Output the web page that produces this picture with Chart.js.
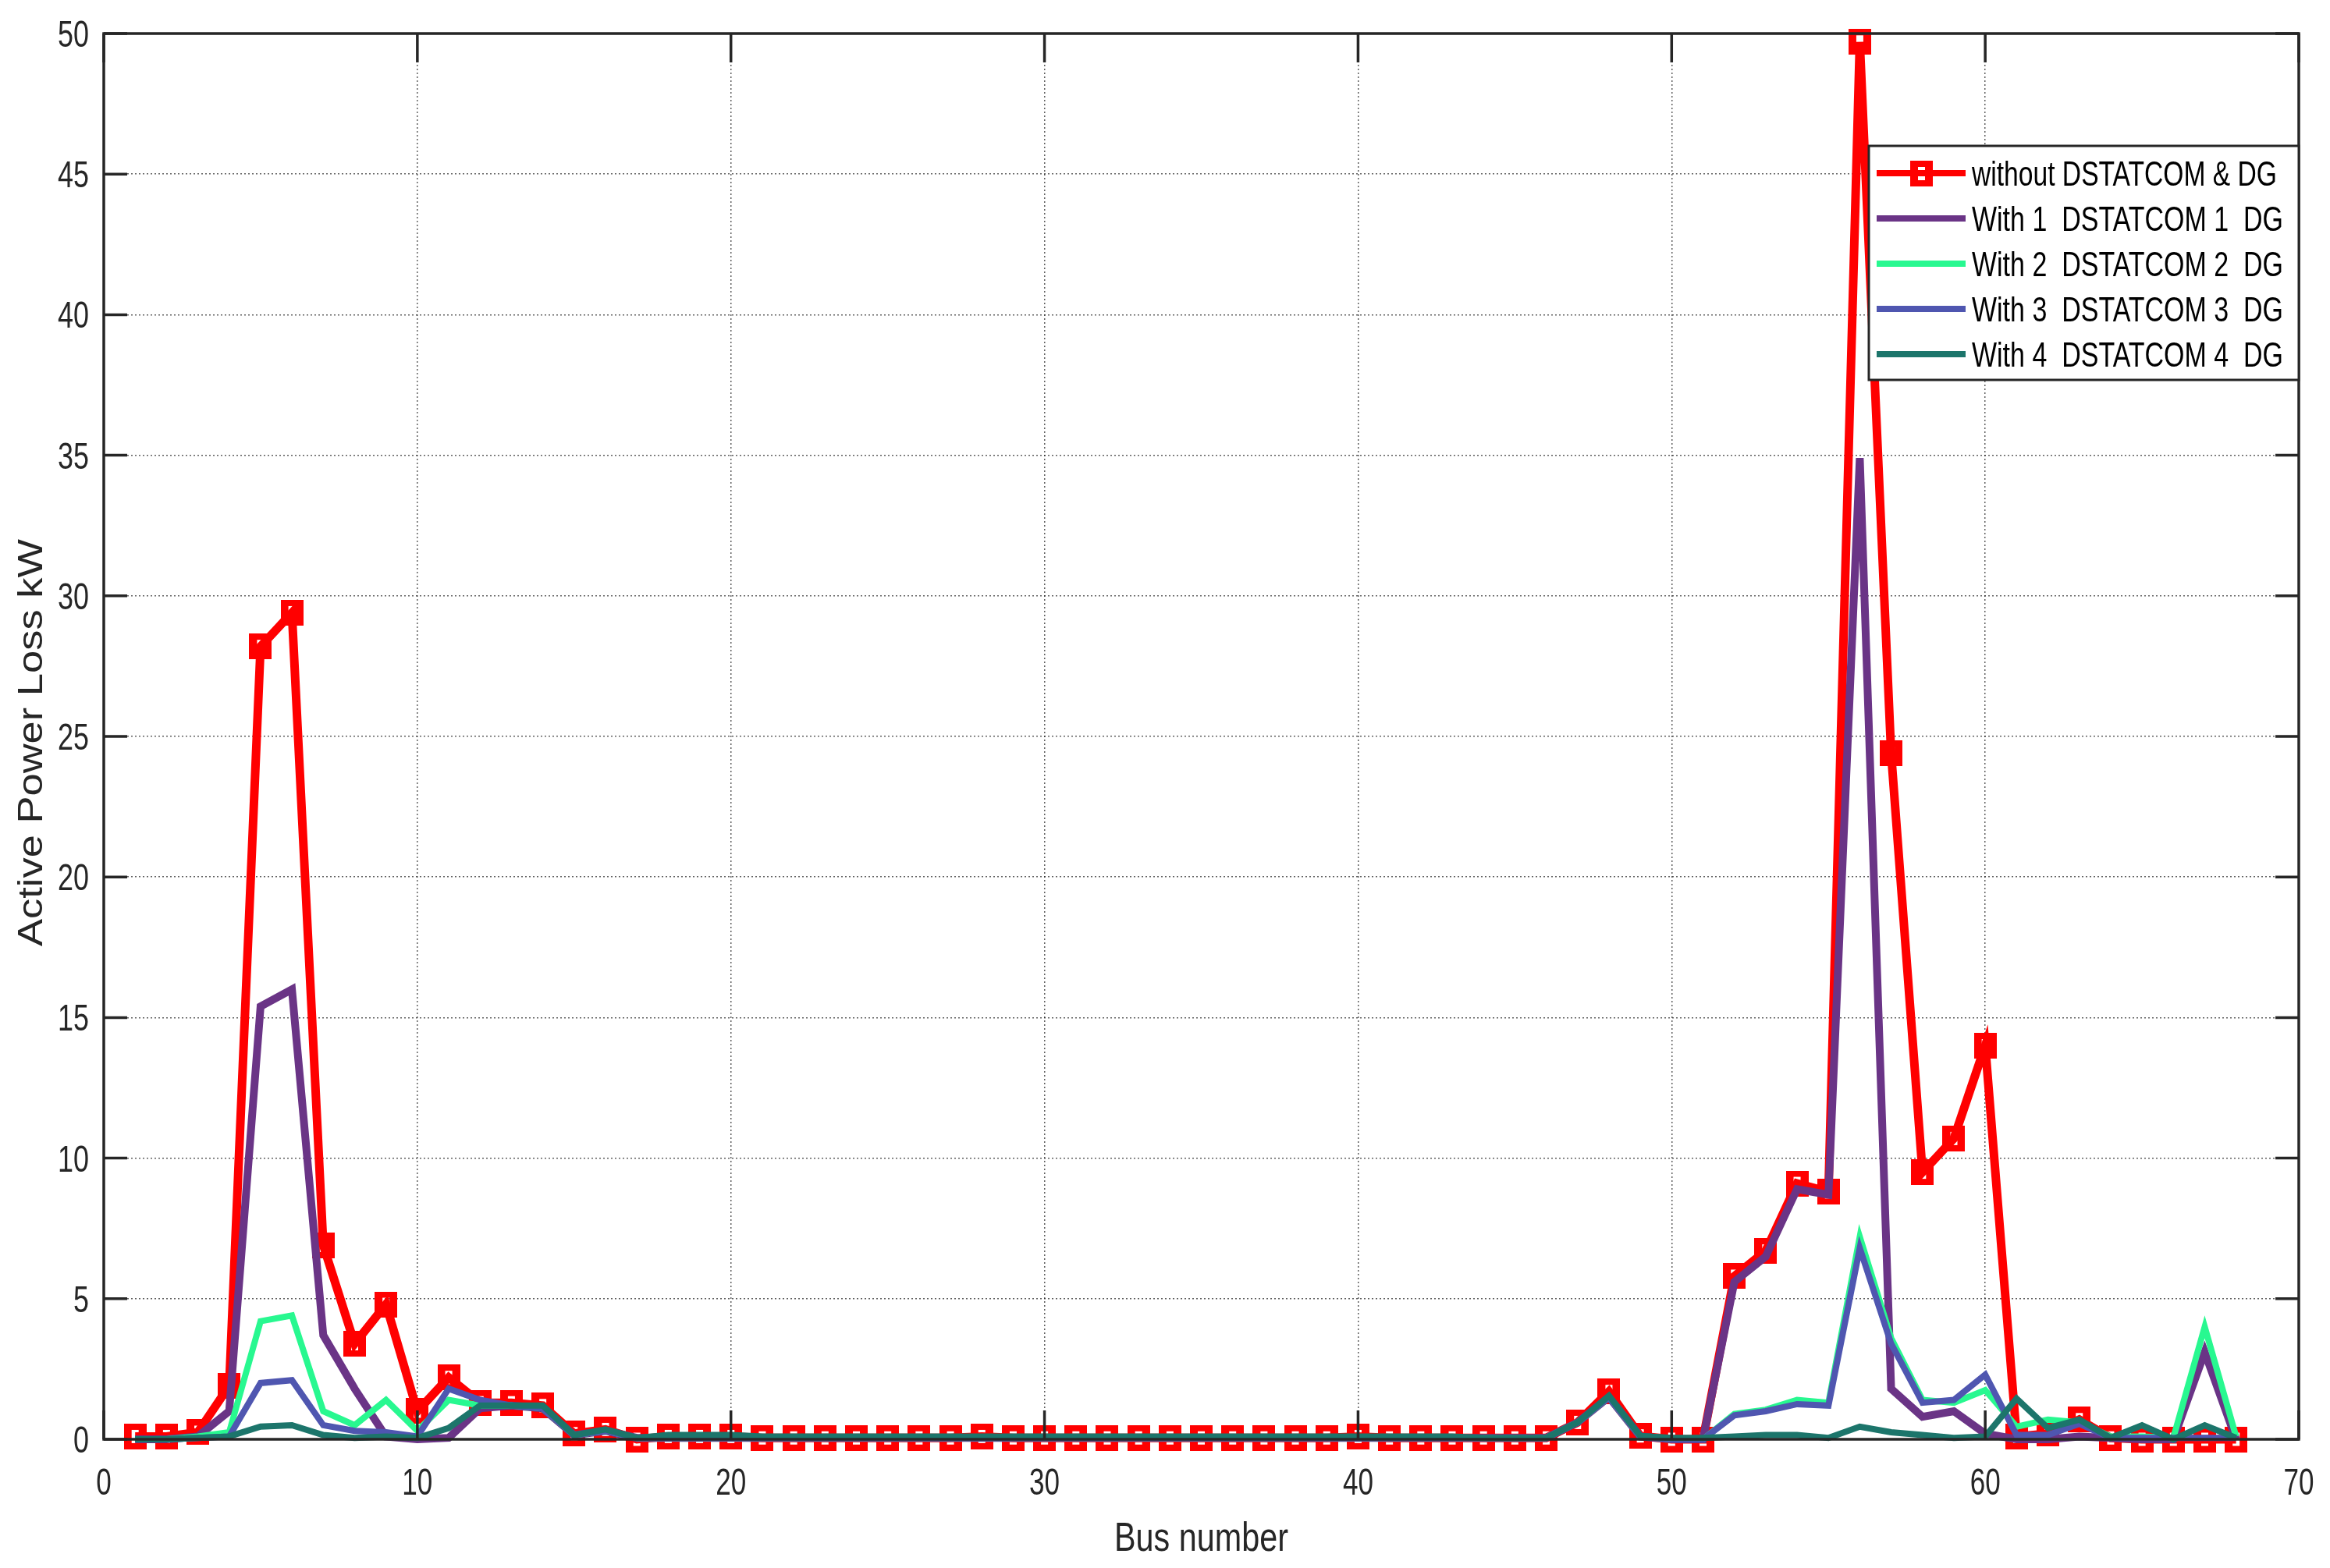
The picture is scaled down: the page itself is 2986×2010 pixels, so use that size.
<!DOCTYPE html>
<html>
<head>
<meta charset="utf-8">
<script src="https://cdn.jsdelivr.net/npm/chart.js@4"></script>
<style>
  html, body { margin: 0; padding: 0; background: #fff; }
  #wrap { width: 2986px; height: 2010px; }
</style>
</head>
<body>
<div id="wrap"><canvas id="c" width="2986" height="2010"></canvas></div>
<script>
// bus numbers 1..68
var buses = [1,2,3,4,5,6,7,8,9,10,11,12,13,14,15,16,17,18,19,20,
  21,22,23,24,25,26,27,28,29,30,31,32,33,34,35,36,37,38,39,40,
  41,42,43,44,45,46,47,48,49,50,51,52,53,54,55,56,57,58,59,60,
  61,62,63,64,65,66,67,68]

var lossWithout = [0.1,0.1,0.25,1.9,28.2,29.4,6.9,3.4,4.8,1.0,
  2.2,1.3,1.3,1.2,0.2,0.35,0.0,0.1,0.1,0.1,
  0.05,0.05,0.05,0.05,0.05,0.05,0.05,0.1,0.05,0.05,
  0.05,0.05,0.05,0.05,0.05,0.05,0.05,0.05,0.05,0.1,
  0.05,0.05,0.05,0.05,0.05,0.05,0.6,1.7,0.12,0.0,
  0.0,5.8,6.7,9.1,8.8,49.7,24.4,9.5,10.7,14.0,
  0.1,0.2,0.7,0.05,0.0,0.0,0.0,0.0]

var lossWith1 = [0,0,0.1,1.0,15.4,16.0,3.7,1.8,0.1,0.0,
  0.05,1.1,1.2,1.1,0.15,0.3,0.05,0.05,0.05,0.05,
  0.05,0.05,0.05,0.05,0.05,0.05,0.05,0.05,0.05,0.05,
  0.05,0.05,0.05,0.05,0.05,0.05,0.05,0.05,0.05,0.05,
  0.05,0.05,0.05,0.05,0.05,0.05,0.6,1.5,0.1,0.0,
  0.0,5.6,6.5,8.9,8.7,34.9,1.8,0.8,1.0,0.2,
  0.0,0.0,0.1,0.05,0.0,0.0,3.1,0.0]

var lossWith2 = [0,0,0.1,0.25,4.2,4.4,1.0,0.5,1.4,0.3,
  1.4,1.2,1.2,1.1,0.15,0.3,0.05,0.05,0.05,0.05,
  0.05,0.05,0.05,0.05,0.05,0.05,0.05,0.05,0.05,0.05,
  0.05,0.05,0.05,0.05,0.05,0.05,0.05,0.05,0.05,0.05,
  0.05,0.05,0.05,0.05,0.05,0.05,0.6,1.5,0.1,0.0,
  0.0,0.9,1.05,1.4,1.3,7.2,3.6,1.4,1.3,1.75,
  0.45,0.7,0.6,0.1,0.1,0.05,4.0,0.1]

var lossWith3 = [0,0,0.05,0.1,2.0,2.1,0.5,0.3,0.25,0.1,
  1.8,1.4,1.2,1.1,0.15,0.3,0.05,0.05,0.05,0.05,
  0.05,0.05,0.05,0.05,0.05,0.05,0.05,0.05,0.05,0.05,
  0.05,0.05,0.05,0.05,0.05,0.05,0.05,0.05,0.05,0.05,
  0.05,0.05,0.05,0.05,0.05,0.05,0.6,1.5,0.1,0.0,
  0.0,0.85,1.0,1.25,1.2,6.8,3.4,1.3,1.4,2.3,
  0.15,0.15,0.55,0.05,0.05,0.05,0.05,0.05]

var lossWith4 = [0,0,0.05,0.1,0.45,0.5,0.15,0.05,0.1,0.05,
  0.4,1.2,1.2,1.2,0.15,0.35,0.05,0.15,0.15,0.15,
  0.1,0.1,0.1,0.1,0.1,0.1,0.1,0.1,0.1,0.1,
  0.1,0.1,0.1,0.1,0.1,0.1,0.1,0.1,0.1,0.1,
  0.1,0.1,0.1,0.05,0.05,0.05,0.6,1.55,0.12,0.05,
  0.05,0.1,0.15,0.15,0.05,0.45,0.25,0.15,0.05,0.1,
  1.45,0.4,0.7,0.05,0.5,0.0,0.5,0.05]

var xTicks = [0, 10, 20, 30, 40, 50, 60, 70]
var yTicks = [0, 5, 10, 15, 20, 25, 30, 35, 40, 45, 50]

var seriesNames = ['without DSTATCOM & DG', 'With 1  DSTATCOM 1  DG', 'With 2  DSTATCOM 2  DG',
  'With 3  DSTATCOM 3  DG', 'With 4  DSTATCOM 4  DG']
var seriesColors = ['#ff0000', '#6a3486', '#28f890', '#4f56b0', '#1c756b']

var sans = "'Liberation Sans', Arial, sans-serif"

// open red square marker (slightly taller than wide, like the figure)
function squareMarker() {
  let c = document.createElement('canvas')
  c.width = 29
  c.height = 33
  let g = c.getContext('2d')
  g.fillStyle = '#ff0000'
  g.fillRect(0, 0, 29, 33)
  g.clearRect(10, 8, 9, 17)
  return c
}
var marker = squareMarker()

function toPoints(arr) {
  return arr.map(function (v, i) { return {x: buses[i], y: v} })
}

function lineSet(i, data, width, order) {
  return {
    label: seriesNames[i],
    data: toPoints(data),
    borderColor: seriesColors[i],
    borderWidth: width,
    pointRadius: 0,
    tension: 0,
    clip: false,
    order: order
  }
}

var redSet = lineSet(0, lossWithout, 11, 4)
redSet.pointStyle = marker
redSet.pointRadius = 14

// draw text squeezed or stretched along its length so it fits a target width
function fitText(ctx, text, x, y, targetWidth, align) {
  let w = ctx.measureText(text).width
  let k = targetWidth / w
  ctx.save()
  ctx.translate(x, y)
  ctx.scale(k, 1)
  ctx.textAlign = align
  ctx.fillText(text, 0, 0)
  ctx.restore()
}

var axesDecor = {
  id: 'axesDecor',
  afterDraw(chart) {
    let ctx = chart.ctx
    let a = chart.chartArea
    let xs = chart.scales.x
    let ys = chart.scales.y
    ctx.save()
    ctx.strokeStyle = '#262626'
    ctx.lineWidth = 3.5
    ctx.strokeRect(a.left, a.top, a.right - a.left, a.bottom - a.top)
    ctx.beginPath()
    xTicks.forEach(function (v) {
      let px = xs.getPixelForValue(v)
      ctx.moveTo(px, a.bottom); ctx.lineTo(px, a.bottom - 37)
      ctx.moveTo(px, a.top); ctx.lineTo(px, a.top + 37)
    })
    yTicks.forEach(function (v) {
      let py = ys.getPixelForValue(v)
      ctx.moveTo(a.left, py); ctx.lineTo(a.left + 30, py)
      ctx.moveTo(a.right, py); ctx.lineTo(a.right - 30, py)
    })
    ctx.stroke()

    // tick labels
    ctx.fillStyle = '#262626'
    ctx.font = '48px ' + sans
    ctx.textBaseline = 'alphabetic'
    yTicks.forEach(function (v) {
      let s = String(v)
      let py = ys.getPixelForValue(v)
      fitText(ctx, s, a.left - 19, py + 17, s.length * 20, 'right')
    })
    xTicks.forEach(function (v) {
      let s = String(v)
      let px = xs.getPixelForValue(v)
      fitText(ctx, s, px, a.bottom + 71, s.length * 19.5, 'center')
    })

    // axis titles
    ctx.font = '52px ' + sans
    fitText(ctx, 'Bus number', (a.left + a.right) / 2, 1988, 223, 'center')
    ctx.save()
    ctx.translate(54, 952)
    ctx.rotate(-Math.PI / 2)
    ctx.font = '44px ' + sans
    fitText(ctx, 'Active Power Loss kW', 0, 0, 522, 'center')
    ctx.restore()

    // legend box
    let lx = 2395, ly = 187, lw = a.right - 2395, lh = 300
    ctx.fillStyle = '#ffffff'
    ctx.fillRect(lx, ly, lw, lh)
    ctx.lineWidth = 3
    ctx.strokeStyle = '#262626'
    ctx.strokeRect(lx, ly, lw, lh)
    ctx.font = '45px ' + sans
    for (let i = 0; i < seriesNames.length; i++) {
      let cy = 222 + i * 58
      ctx.strokeStyle = seriesColors[i]
      ctx.lineWidth = 8
      ctx.beginPath()
      ctx.moveTo(2405, cy); ctx.lineTo(2519, cy)
      ctx.stroke()
      if (i === 0) ctx.drawImage(marker, 2448, cy - 16)
      ctx.fillStyle = '#000000'
      let target = i === 0 ? 391 : 399
      fitText(ctx, seriesNames[i], 2527, cy + 16, target, 'left')
    }
    ctx.restore()
  }
}

function gridColor(edgeA, edgeB) {
  return function (c) {
    if (c.tick && (c.tick.value === edgeA || c.tick.value === edgeB)) return 'rgba(0,0,0,0)'
    return 'rgba(30,30,30,0.7)'
  }
}

new Chart(document.getElementById('c'), {
  type: 'line',
  data: {
    datasets: [
      lineSet(4, lossWith4, 8, 0),
      lineSet(3, lossWith3, 8, 1),
      lineSet(2, lossWith2, 8, 2),
      lineSet(1, lossWith1, 10, 3),
      redSet
    ]
  },
  options: {
    responsive: false,
    devicePixelRatio: 1,
    animation: false,
    layout: { padding: { top: 43, right: 40, left: 0, bottom: 0 } },
    plugins: {
      legend: { display: false },
      tooltip: { enabled: false }
    },
    scales: {
      x: {
        type: 'linear',
        min: 0, max: 70,
        afterFit(s) { s.height = 165; s.paddingLeft = 0; s.paddingRight = 0 },
        ticks: { stepSize: 10, display: false },
        grid: { color: gridColor(0, 70), lineWidth: 1.5, drawTicks: false },
        border: { display: false, dash: [2, 3] }
      },
      y: {
        min: 0, max: 50,
        afterFit(s) { s.width = 133; s.paddingTop = 0; s.paddingBottom = 0 },
        ticks: { stepSize: 5, display: false },
        grid: { color: gridColor(0, 50), lineWidth: 1.5, drawTicks: false },
        border: { display: false, dash: [2, 3] }
      }
    }
  },
  plugins: [axesDecor]
})
</script>
</body>
</html>
